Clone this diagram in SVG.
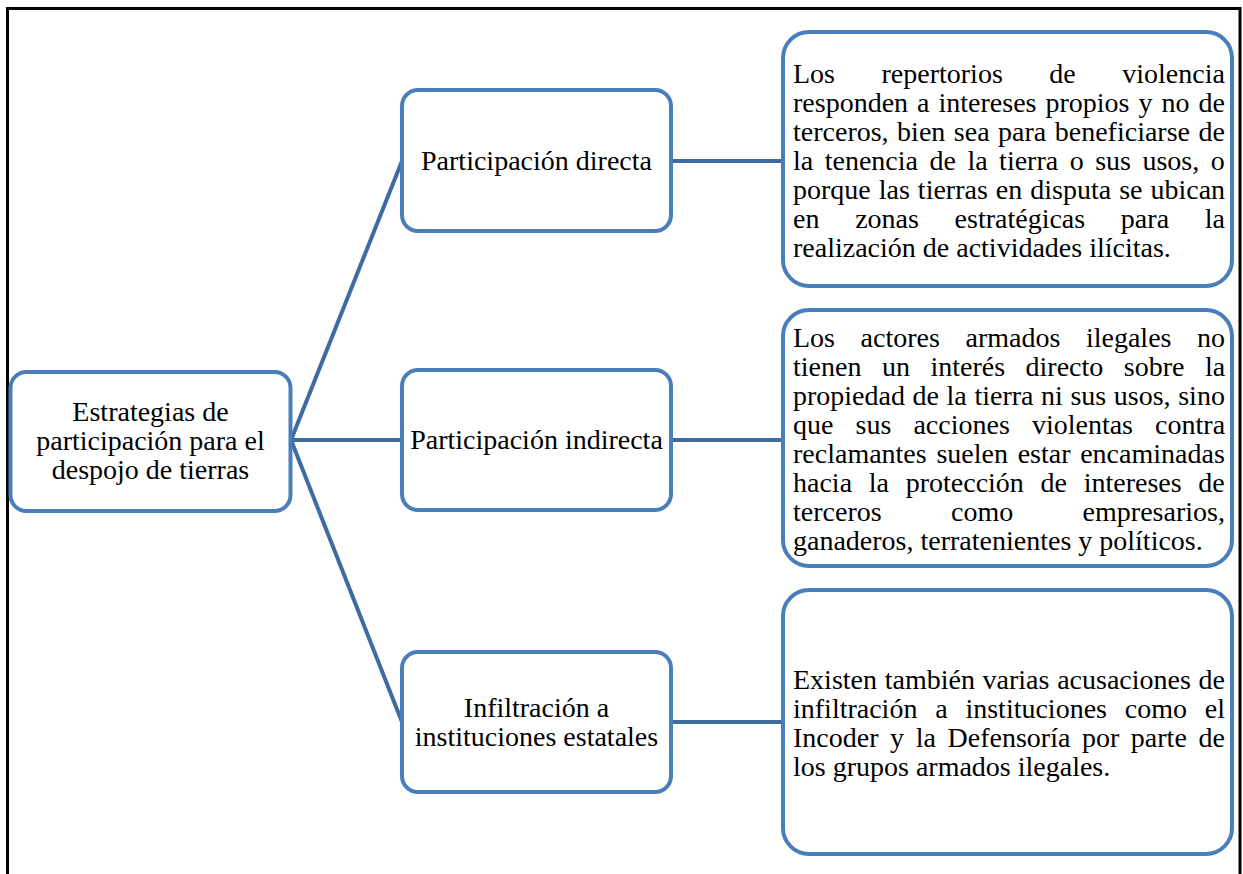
<svg xmlns="http://www.w3.org/2000/svg" width="1243" height="874" viewBox="0 0 1243 874">
<style>
.box{fill:#fff;stroke:#4A7EBB;stroke-width:4}
.conn line{stroke:#3F6C9F;stroke-width:4;stroke-linecap:butt}
text{font-family:"Liberation Serif","Times New Roman",serif;font-size:28px;fill:#000;font-kerning:none;font-variant-ligatures:none}
.c{text-anchor:middle}
</style>
<rect x="0" y="0" width="1243" height="874" fill="#fff"/>
<path d="M7.5,874 V8.5 H1240 V874" fill="none" stroke="#000" stroke-width="3"/>
<g id="connectors" class="conn">
<line x1="291" y1="440" x2="402" y2="161"/>
<line x1="291" y1="440" x2="402" y2="440"/>
<line x1="291" y1="440" x2="402" y2="722"/>
<line x1="671" y1="161" x2="783" y2="161"/>
<line x1="671" y1="440" x2="783" y2="440"/>
<line x1="671" y1="722" x2="783" y2="722"/>
</g>
<g id="root">
<rect class="box" x="10.5" y="372" width="280" height="139" rx="16"/>
<text class="c" x="150.5" y="421">Estrategias de</text>
<text class="c" x="150.5" y="450">participación para el</text>
<text class="c" x="150.5" y="479">despojo de tierras</text>
</g>
<g id="directa">
<rect class="box" x="402" y="90" width="269" height="141" rx="16"/>
<text class="c" x="536.5" y="170">Participación directa</text>
</g>
<g id="indirecta">
<rect class="box" x="402" y="370" width="269" height="140" rx="16"/>
<text class="c" x="536.5" y="449">Participación indirecta</text>
</g>
<g id="infiltracion">
<rect class="box" x="402" y="652" width="269" height="140" rx="16"/>
<text class="c" x="536.5" y="717">Infiltración a</text>
<text class="c" x="536.5" y="746">instituciones estatales</text>
</g>
<g id="desc-directa">
<rect class="box" x="783" y="32" width="449" height="254" rx="26"/>
<text x="793" y="83" word-spacing="39.5">Los repertorios de violencia</text>
<text x="793" y="112" word-spacing="2">responden a intereses propios y no de</text>
<text x="793" y="141" word-spacing="1.5">terceros, bien sea para beneficiarse de</text>
<text x="793" y="170" word-spacing="4.5">la tenencia de la tierra o sus usos, o</text>
<text x="793" y="199" word-spacing="1">porque las tierras en disputa se ubican</text>
<text x="793" y="228" word-spacing="28.7">en zonas estratégicas para la</text>
<text x="793" y="257">realización de actividades ilícitas.</text>
</g>
<g id="desc-indirecta">
<rect class="box" x="783" y="310" width="449" height="256" rx="26"/>
<text x="793" y="347" word-spacing="18.6">Los actores armados ilegales no</text>
<text x="793" y="376" word-spacing="13.5">tienen un interés directo sobre la</text>
<text x="793" y="405" word-spacing="0.6">propiedad de la tierra ni sus usos, sino</text>
<text x="793" y="434" word-spacing="15.1">que sus acciones violentas contra</text>
<text x="793" y="463" word-spacing="2.7">reclamantes suelen estar encaminadas</text>
<text x="793" y="492" word-spacing="9.7">hacia la protección de intereses de</text>
<text x="793" y="521" word-spacing="62.4">terceros como empresarios,</text>
<text x="793" y="550">ganaderos, terratenientes y políticos.</text>
</g>
<g id="desc-infiltracion">
<rect class="box" x="783" y="590" width="449" height="264" rx="26"/>
<text x="793" y="689" word-spacing="0.7">Existen también varias acusaciones de</text>
<text x="793" y="718" word-spacing="10.8">infiltración a instituciones como el</text>
<text x="793" y="747" word-spacing="4.6">Incoder y la Defensoría por parte de</text>
<text x="793" y="776">los grupos armados ilegales.</text>
</g>
</svg>
